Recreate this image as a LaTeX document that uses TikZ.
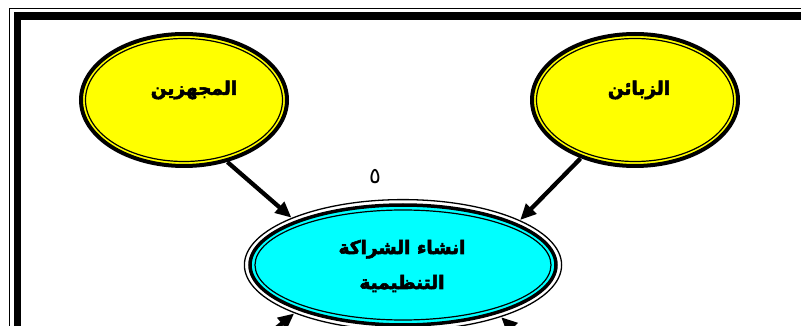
\documentclass[tikz,border=0pt]{standalone}
\usepackage{fontspec}
\usetikzlibrary{arrows.meta,shapes.geometric}
\newfontfamily\arabicfont[Script=Arabic]{DejaVu Sans}
\newfontfamily\arabicbold[Script=Arabic,FakeBold=3]{DejaVu Sans Bold}
\TeXXeTstate=1
\definecolor{ylw}{RGB}{255,255,0}
\definecolor{cyn}{RGB}{0,255,255}
\begin{document}
\begin{tikzpicture}[x=1pt,y=-1pt,
  arr/.style={line width=4.3pt,-{Triangle[length=16pt,width=14pt]}},
  lbl/.style={font=\fontsize{18.5}{35}\selectfont\arabicbold, text=black, align=center, inner sep=0pt},
  holder/.style={ellipse, inner sep=0pt, draw=none}]
\useasboundingbox (0,0) rectangle (801,326);
\clip (0,0) rectangle (801,326);
\fill[white] (0,0) rectangle (801,326);
% frame
\draw[line width=1.3pt] (9.5,8.5) rectangle (900,420);
\draw[line width=7.5pt] (17.25,16.25) rectangle (900,420);
% shape holders
\node[holder, minimum width=210pt, minimum height=136pt] (sup) at (184,100) {};
\node[holder, minimum width=210pt, minimum height=136pt] (cli) at (635,100) {};
\node[holder, minimum width=319pt, minimum height=132pt] (org) at (403,265) {};
% yellow ellipses
\foreach \n in {sup,cli}{
  \filldraw[fill=ylw, line width=4pt] (\n.center) ellipse [x radius=103, y radius=66];
  \draw[line width=1.2pt] (\n.center) ellipse [x radius=98.5, y radius=61.5];
}
% cyan ellipse
\draw[line width=1.3pt] (org.center) ellipse [x radius=158.6, y radius=65.4];
\filldraw[fill=cyn, line width=3.5pt] (org.center) ellipse [x radius=153, y radius=60];
\draw[line width=1.2pt] (org.center) ellipse [x radius=148, y radius=55];
% labels
\node[lbl] (suptext) at (194,90) {\beginR المجهزين\endR};
\node[lbl] (clitext) at (639,90) {\beginR الزبائن\endR};
\node[lbl] (orgtext) at (402,266) {\beginR انشاء الشراكة\endR\\\beginR التنظيمية\endR};
\node[font=\fontsize{22}{22}\selectfont\arabicfont, inner sep=0pt] (num) at (375,177) {٥};
% arrows
\draw[arr] (sup.-55) -- (org.157);
\draw[arr] (cli.-133) -- (org.21);
\coordinate (bl) at (225,370);
\coordinate (br) at (562,376);
\draw[arr] (bl) -- (org.-156);
\draw[arr] (br) -- (org.-28);
\end{tikzpicture}
\end{document}
